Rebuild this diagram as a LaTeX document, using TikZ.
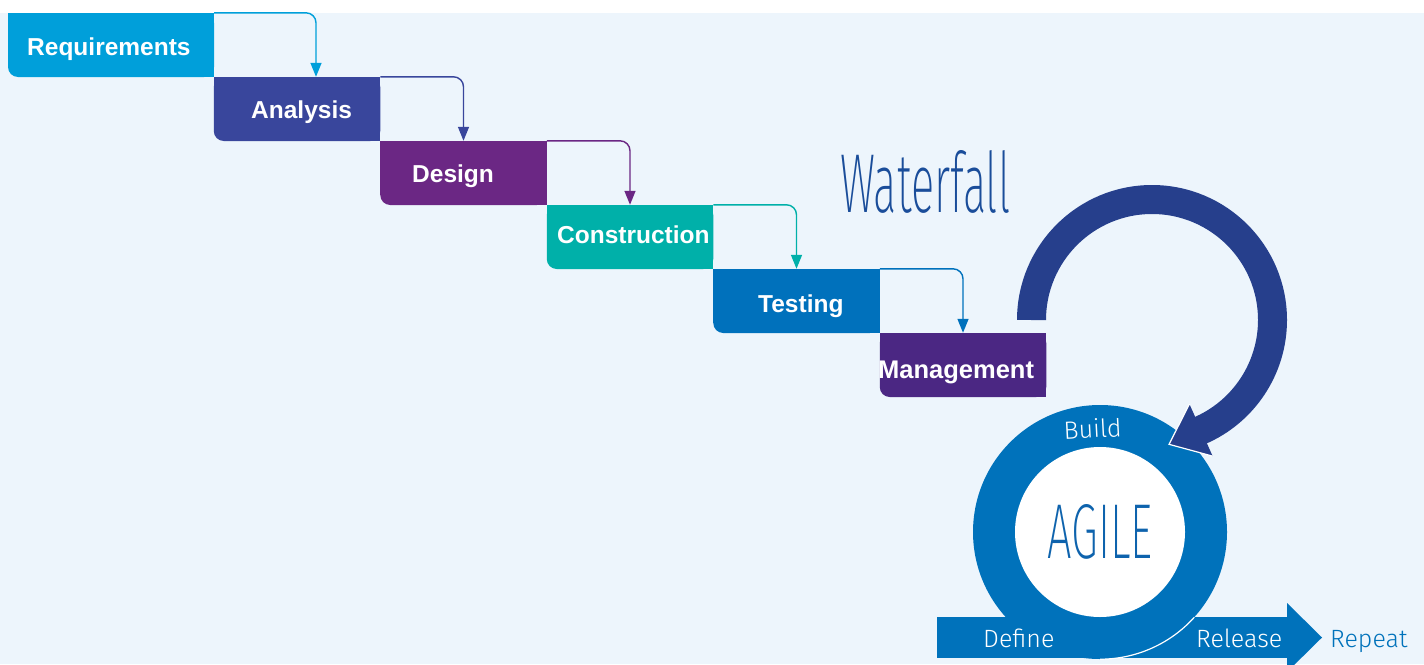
\documentclass[tikz,border=0pt]{standalone}
\usepackage{fontspec}
\usepackage{graphicx}
\setmainfont{Liberation Sans}
\newfontfamily\lightfont{Fira Sans Light}
\newfontfamily\thinfont{Fira Sans ExtraLight}
\usetikzlibrary{arrows.meta,calc}
\definecolor{bgc}{HTML}{EDF5FC}
\definecolor{reqc}{HTML}{009FDA}
\definecolor{anac}{HTML}{39469C}
\definecolor{desc}{HTML}{6B2784}
\definecolor{conc}{HTML}{00B0A9}
\definecolor{tesc}{HTML}{0071BC}
\definecolor{manc}{HTML}{4B2783}
\definecolor{navy}{HTML}{263F8C}
\definecolor{agilec}{HTML}{0072BB}
\definecolor{wfc}{HTML}{1A4D9A}
\definecolor{agtext}{HTML}{0E63AD}
\tikzset{
  box/.style={minimum width=166.5pt, minimum height=64pt, inner sep=0pt, rounded corners=10pt, fill=#1},
  lbl/.style={text=white, font=\bfseries\fontsize{24.5}{24.5}\selectfont, inner sep=0pt, anchor=base west},
  conn/.style={line width=1.4pt, rounded corners=10pt, -{Triangle[width=11pt,length=14pt]}, draw=#1},
  lighttext/.style={font=\lightfont\fontsize{25}{25}\selectfont, inner sep=0pt, anchor=base west, text=white},
}
\begin{document}
\begin{tikzpicture}[x=1pt,y=1pt]
\useasboundingbox (0,0) rectangle (1424,-664);
\fill[white] (0,0) rectangle (1424,-664);
\fill[bgc] (0,-13) rectangle (1424,-664);

% waterfall boxes
\node[box=reqc, minimum width=206pt] (req) at (111,-45) {};
\node[box=anac] (ana) at (297,-109) {};
\node[box=desc] (des) at (463.5,-173) {};
\node[box=conc] (con) at (630,-237) {};
\node[box=tesc] (tes) at (796.5,-301) {};
\node[box=manc] (man) at (963,-365) {};
\foreach \n/\c in {req/reqc,ana/anac,des/desc,con/conc,tes/tesc,man/manc}{
  \fill[\c] ([yshift=10pt]\n.south west) rectangle (\n.north east);
  \fill[\c] ([xshift=10pt]\n.south west) rectangle (\n.north east);
}

% labels
\node[lbl] (reqt) at (27,-55) {Requirements};
\node[lbl] (anat) at (251,-118) {Analysis};
\node[lbl] (dest) at (412,-182) {Design};
\node[lbl] (cont) at (557,-243) {Construction};
\node[lbl] (test) at (758,-312) {Testing};
\node[lbl, font=\bfseries\fontsize{25.5}{25.5}\selectfont] (mant) at (878,-378) {Management};

% connectors
\draw[conn=reqc] (req.north east) -| ([xshift=19pt]ana.north);
\draw[conn=anac] (ana.north east) -| (des.north);
\draw[conn=desc] (des.north east) -| (con.north);
\draw[conn=conc] (con.north east) -| (tes.north);
\draw[conn=tesc] (tes.north east) -| (man.north);

% Waterfall title
\node[anchor=base west, inner sep=0pt, text=wfc] (wf) at (840,-212) {\resizebox{170pt}{62pt}{\thinfont Waterfall}};

% agile loop
\node[circle, fill=agilec, minimum size=254pt, inner sep=0pt] (ring) at (1100,-532) {};
\fill[agilec] (937,-617) rectangle (1288,-658);
\fill[agilec] (1287,-603) -- (1322,-637.5) -- (1287,-672) -- cycle;
\node[circle, fill=white, minimum size=170pt, inner sep=0pt, text=agtext] (core) at (1100,-532) {\resizebox{105pt}{54pt}{\thinfont AGILE}};
\draw[white, line width=1.2pt] (ring.south) arc[start angle=-90, end angle=-42, radius=127];

% big navy return arrow
\coordinate (loopc) at (1152,-320);
\draw[navy, line width=29pt] ($(loopc)+(180:120.5)$) arc[start angle=180, end angle=-67, radius=120.5];
\coordinate (hout) at ($(loopc)+(-66:149)$);
\coordinate (hin) at ($(loopc)+(-66:92)$);
\coordinate (htip) at ($(loopc)+(-66:120.5)+(-156:35)$);
\fill[navy] (hout) -- (hin) -- (htip) -- cycle;
\draw[white, line width=1.2pt, line join=miter] (hout) -- (htip) -- (hin);

% agile texts
\node[lighttext, anchor=base, rotate=3] (build) at (1093,-438) {Build};
\node[lighttext] (define) at (983,-647) {Define};
\node[lighttext] (release) at (1196,-647) {Release};
\node[lighttext, text=agilec] (repeat) at (1330,-647) {Repeat};
\end{tikzpicture}
\end{document}
